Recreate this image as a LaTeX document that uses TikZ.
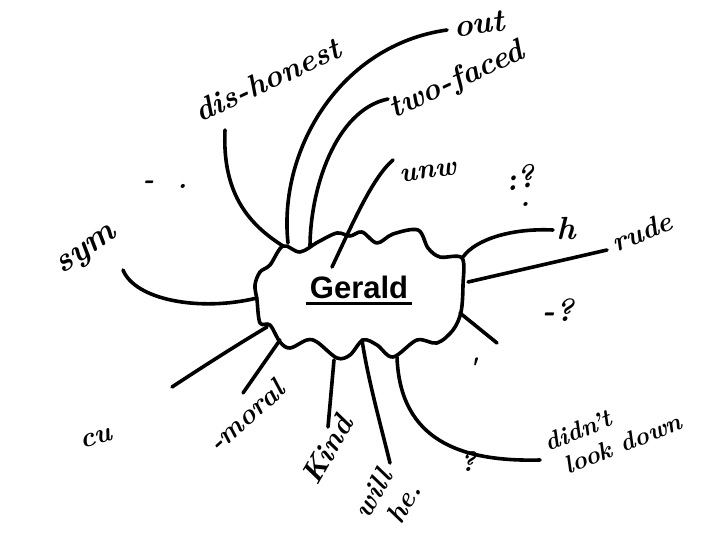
\documentclass[tikz,border=0pt]{standalone}
\usepackage{fontspec}
\newfontfamily\printfont{Liberation Sans}
\usetikzlibrary{positioning}

\tikzset{
  branch/.style={line width=3.6pt, line cap=round},
  hand/.style={font=\bfseries\itshape\fontsize{28}{28}\selectfont, inner sep=0pt, align=left},
  big/.style={font=\bfseries\itshape\fontsize{32}{32}\selectfont},
}

\begin{document}
\begin{tikzpicture}[x=1pt,y=-1pt]
\useasboundingbox[fill=white] (0,0) rectangle (720,540);
% the cloud round the name
\draw[branch,line join=round] plot[smooth cycle,tension=0.55] coordinates {
(283,246) (300,252) (318,242) (337,233) (350,236) (362,232) (377,243) (393,234)
(418,230) (428,248) (440,257) (462,258) (463,285) (461,312) (453,330) (437,343)
(417,340) (393,357) (377,345) (363,340) (350,355) (337,358) (317,342) (307,340)
(290,348) (280,342) (270,325) (260,323) (257,300) (255,285) (260,272) (270,265)};
\node[font=\printfont\bfseries\fontsize{31}{31}\selectfont, anchor=base] (gerald) at (359,298) {Gerald};
\draw[line width=3pt] ([yshift=-5pt]gerald.base west) -- ([yshift=-5pt]gerald.base east);

% where the branches leave the cloud
\coordinate (b-dh) at (283,246);
\coordinate (b-out) at (288,243);
\coordinate (b-two) at (310,247);
\coordinate (b-unw) at (332,267);
\coordinate (b-h) at (463,257);
\coordinate (b-rude) at (468,282);
\coordinate (b-stub) at (460,313);
\coordinate (b-didnt) at (397,357);
\coordinate (b-will) at (362,340);
\coordinate (b-kind) at (334,360);
\coordinate (b-moral) at (280,340);
\coordinate (b-cu) at (267,327);
\coordinate (b-sym) at (257,298);

% where they stop
\coordinate (e-dh) at (225,130);
\coordinate (e-out) at (447,30);
\coordinate (e-two) at (388,99);
\coordinate (e-unw) at (393,160);
\coordinate (e-h) at (553,230);
\coordinate (e-rude) at (607,250);
\coordinate (e-stub) at (497,343);
\coordinate (e-didnt) at (540,460);
\coordinate (e-will) at (390,463);
\coordinate (e-kind) at (328,427);
\coordinate (e-moral) at (243,393);
\coordinate (e-cu) at (172,387);
\coordinate (e-sym) at (123,270);

\draw[branch] (b-dh) .. controls (250,225) and (222,195) .. (e-dh);
\draw[branch] (b-out) .. controls (278,150) and (340,45) .. (e-out);
\draw[branch] (b-two) .. controls (310,190) and (335,110) .. (e-two);
\draw[branch] (b-unw) .. controls (352,225) and (372,178) .. (e-unw);
\draw[branch] (b-h) .. controls (475,240) and (510,228) .. (e-h);
\draw[branch] (b-rude) -- (e-rude);
\draw[branch] (b-stub) -- (e-stub);
\draw[branch] (b-didnt) .. controls (400,440) and (460,462) .. (e-didnt);
\draw[branch] (b-will) .. controls (368,380) and (382,430) .. (e-will);
\draw[branch] (b-kind) -- (e-kind);
\draw[branch] (b-moral) -- (e-moral);
\draw[branch] (b-cu) .. controls (245,340) and (210,362) .. (e-cu);
\draw[branch] (b-sym) .. controls (200,312) and (135,300) .. (e-sym);

% the written words
\node[hand,rotate=25,font=\bfseries\itshape\fontsize{31}{31}\selectfont] (dishonest) at (267,80) {dis-honest};
\node[hand,big,rotate=8] (out) at (479,24) {out};
\node[hand,rotate=25,font=\bfseries\itshape\fontsize{31}{31}\selectfont] (twofaced) at (457,81) {two-faced};
\node[hand,rotate=8] (unw) at (428,172) {unw};
\node[hand,big,rotate=10] (ask1) at (520,178) {:?};
\node[hand] (dot1) at (525,204) {.};
\node[hand,big] (h) at (566,229) {h};
\node[hand,rotate=22] (rude) at (642,232) {rude};
\node[hand,big] (ask2) at (558,310) {-?};
\node[hand] (tick) at (472,368) {\textquotesingle};
\node[hand,rotate=22,font=\bfseries\itshape\fontsize{25}{29}\selectfont] (didnt) at (613,432) {didn't\\\ look down};
\node[hand] (ask3) at (468,462) {?};
\node[hand,rotate=60,font=\bfseries\itshape\fontsize{28}{31}\selectfont] (will) at (387,500) {will\\\ he.};
\node[hand,rotate=60,font=\bfseries\itshape\fontsize{30}{30}\selectfont] (kind) at (327,450) {Kind};
\node[hand,rotate=42] (moral) at (246,416) {-moral};
\node[hand,rotate=15] (cu) at (96,438) {cu};
\node[hand,rotate=35,font=\bfseries\itshape\fontsize{34}{34}\selectfont] (sym) at (88,252) {sym};
\node[hand] (dash) at (165,185) {- \ .};

\end{tikzpicture}
\end{document}
